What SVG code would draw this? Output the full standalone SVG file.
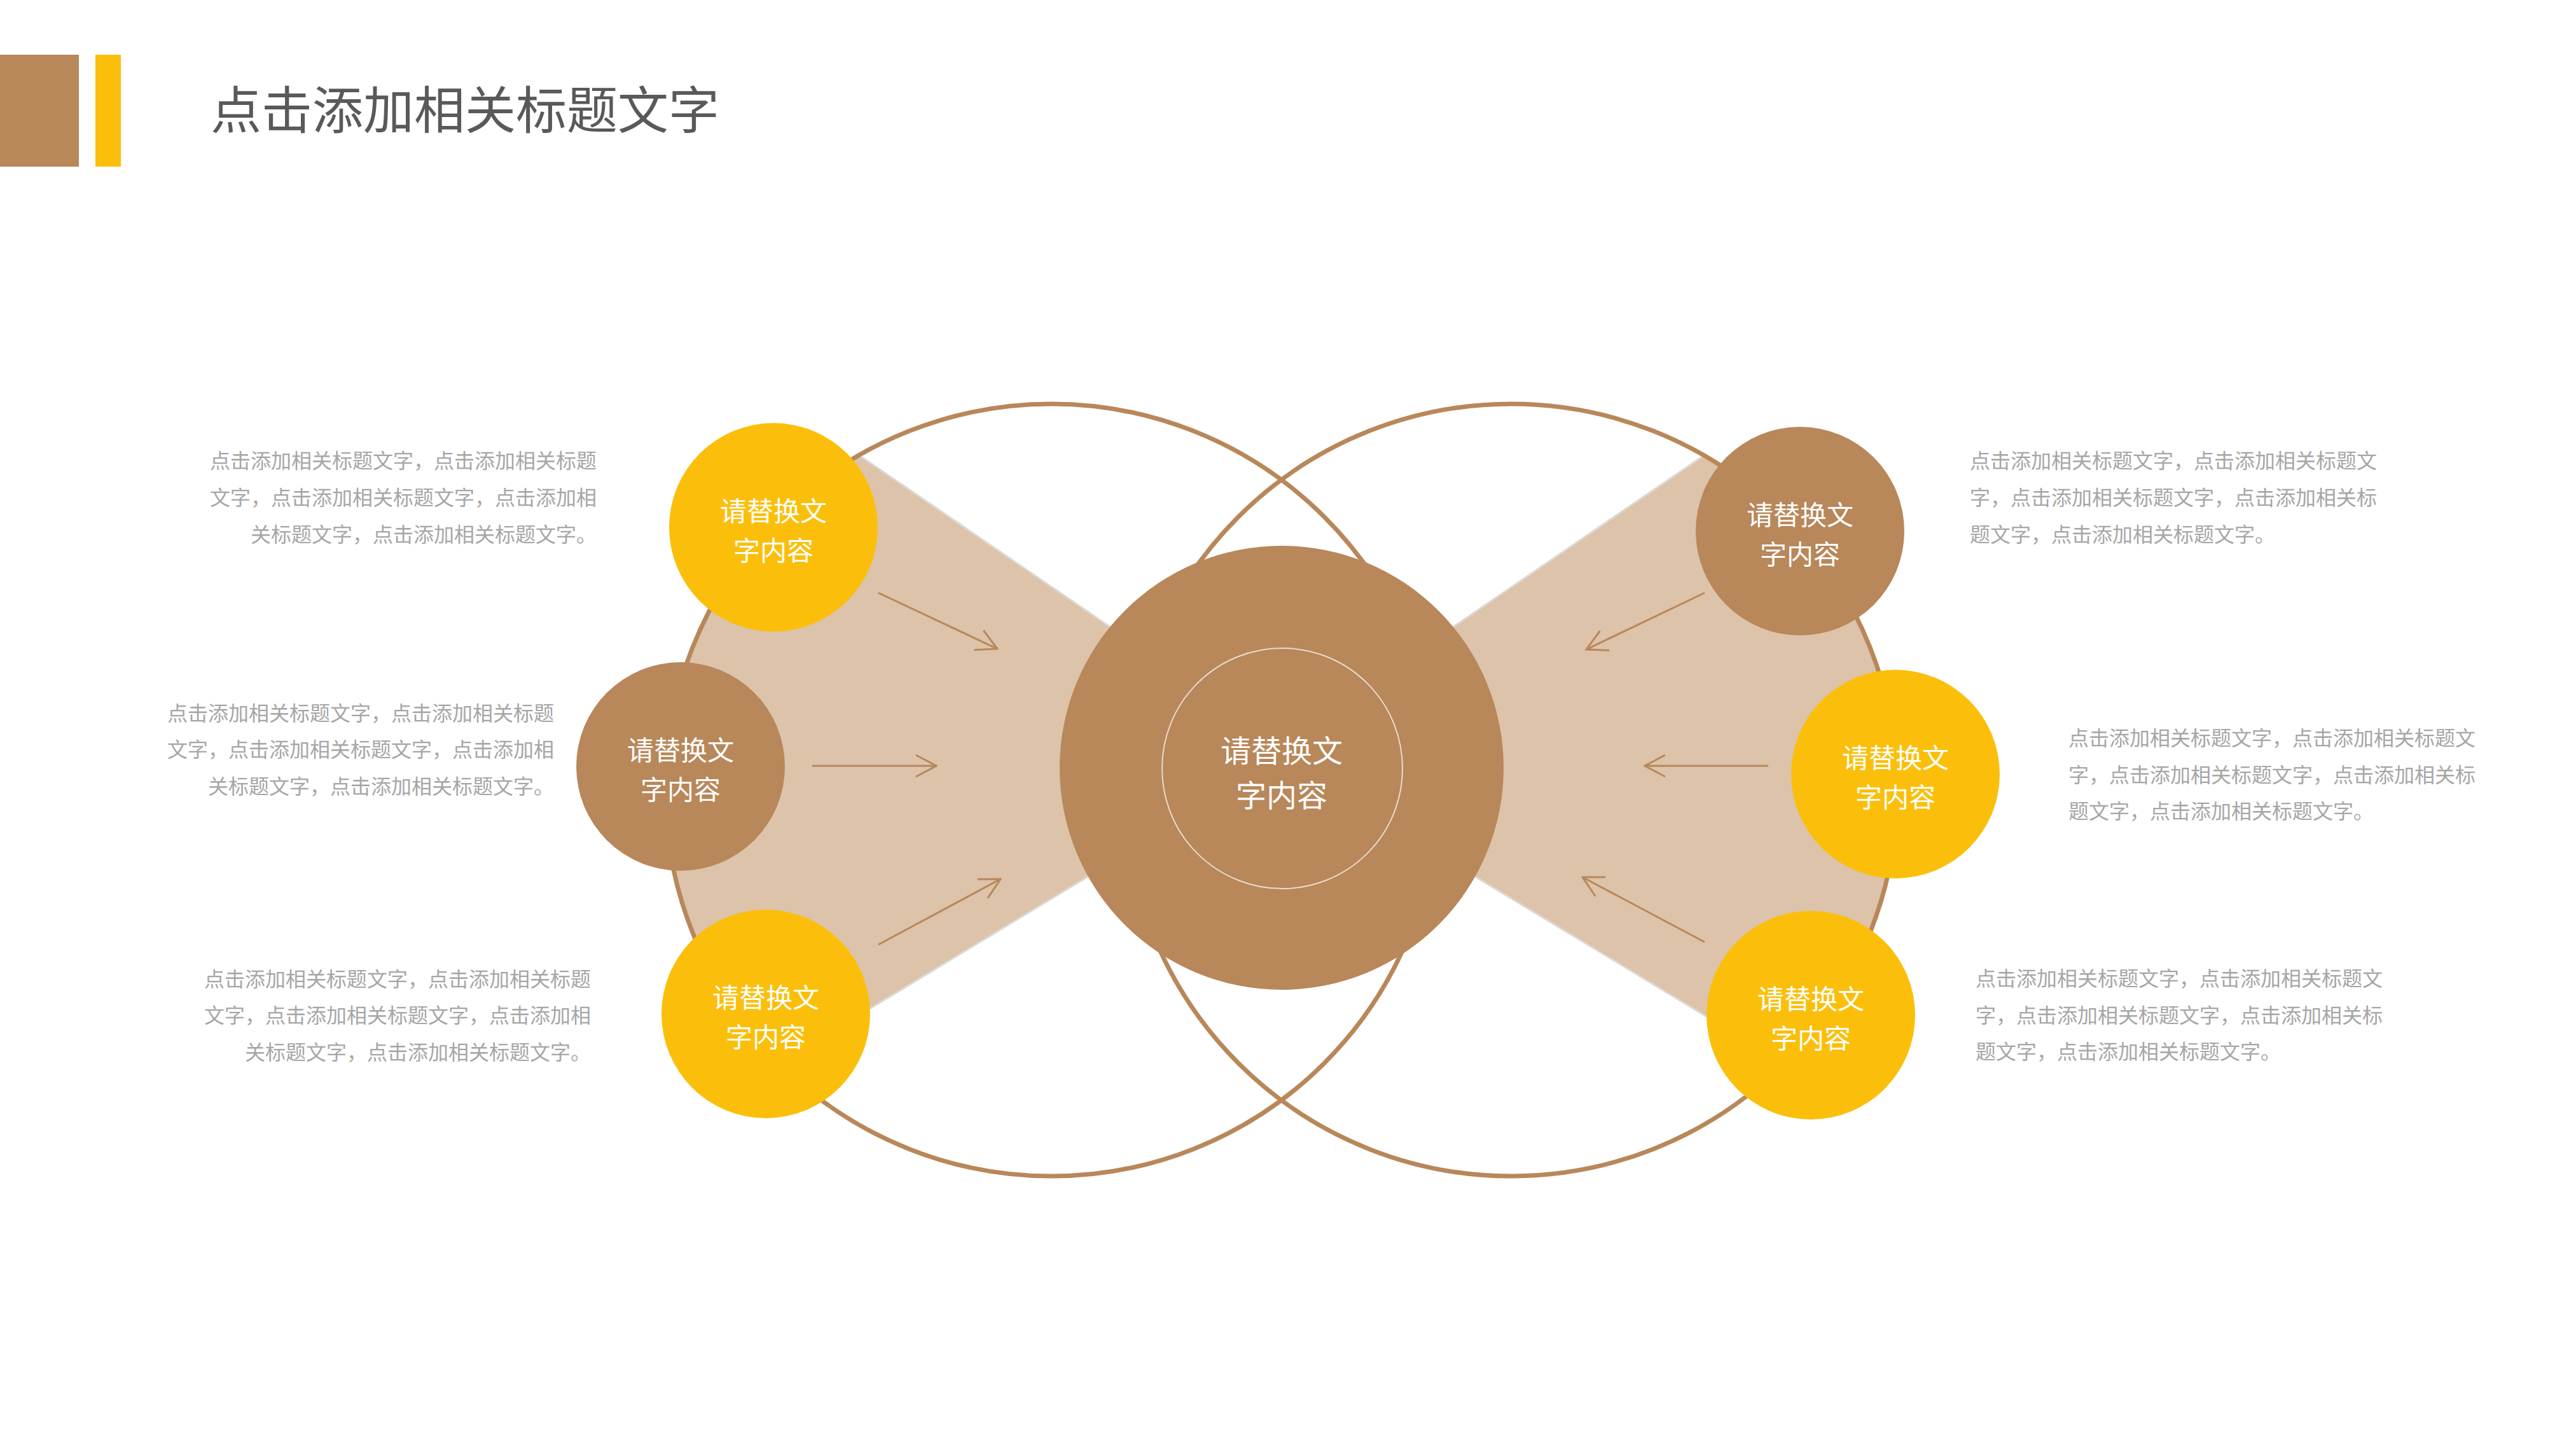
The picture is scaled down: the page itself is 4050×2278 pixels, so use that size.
<svg xmlns="http://www.w3.org/2000/svg" width="4050" height="2278" viewBox="0 0 4050 2278">
<defs>
<style>
.brown{fill:#B8875A}
.yellow{fill:#FBBF0B}
.fan{fill:#DCC3AA;stroke:#DDD8D2;stroke-width:3}
.ring{fill:none;stroke:#B8875A;stroke-width:7}
.arrow{fill:none;stroke:#B8875A;stroke-width:3;marker-end:url(#ah)}
.lbl{font-family:"Noto Sans CJK SC","Noto Sans",sans-serif;fill:#FFFFFF;font-size:42px;text-anchor:middle}
.clbl{font-family:"Noto Sans CJK SC","Noto Sans",sans-serif;fill:#FFFFFF;font-size:48px;text-anchor:middle}
.desc{font-family:"Noto Sans CJK SC","Noto Sans",sans-serif;fill:#A6A6A6;font-size:32px}
.title{font-family:"Noto Sans CJK SC","Noto Sans",sans-serif;fill:#595959;font-size:80px}
</style>
<marker id="ah" markerUnits="userSpaceOnUse" viewBox="0 0 40 40" markerWidth="40" markerHeight="40" refX="38" refY="20" orient="auto">
<path d="M6,3 L38,20 L6,37" fill="none" stroke="#B8875A" stroke-width="3"/>
</marker>
</defs>
<rect width="4050" height="2278" fill="#FFFFFF"/>
<g id="header">
<rect x="0" y="86" width="124" height="176" class="brown"/>
<rect x="150" y="86" width="40" height="176" class="yellow"/>
<text x="331" y="202" class="title">点击添加相关标题文字</text>
</g>
<g id="fans">
<path class="fan" d="M1800 1023 L1350.6 715.7 A607 607 0 0 0 1225 1672 L1800 1324 Z"/>
<path class="fan" d="M2230 1023 L2679.4 715.7 A607 607 0 0 1 2805 1672 L2230 1324 Z"/>
</g>
<g id="rings">
<circle cx="1653" cy="1242" r="607" class="ring"/>
<circle cx="2376" cy="1242" r="607" class="ring"/>
</g>
<g id="center">
<circle cx="2015" cy="1207" r="349" class="brown"/>
<circle cx="2016" cy="1208" r="189" fill="none" stroke="#E9DACA" stroke-width="2"/>
<text x="2015" y="1198" class="clbl">请替换文</text>
<text x="2015" y="1268" class="clbl">字内容</text>
</g>
<g id="connectors">
<line x1="1381" y1="932" x2="1568" y2="1020" class="arrow"/>
<line x1="1277" y1="1204" x2="1472" y2="1204" class="arrow"/>
<line x1="1381" y1="1485" x2="1573" y2="1382" class="arrow"/>
<line x1="2680" y1="932" x2="2494" y2="1021" class="arrow"/>
<line x1="2780" y1="1204" x2="2586" y2="1204" class="arrow"/>
<line x1="2680" y1="1481" x2="2488" y2="1379" class="arrow"/>
</g>
<g id="node-tl">
<circle cx="1216" cy="829" r="164" class="yellow"/>
<text x="1216" y="819" class="lbl">请替换文</text>
<text x="1216" y="881" class="lbl">字内容</text>
</g>
<g id="node-ml">
<circle cx="1070" cy="1205" r="164" class="brown"/>
<text x="1070" y="1195" class="lbl">请替换文</text>
<text x="1070" y="1257" class="lbl">字内容</text>
</g>
<g id="node-bl">
<circle cx="1204" cy="1594" r="164" class="yellow"/>
<text x="1204" y="1584" class="lbl">请替换文</text>
<text x="1204" y="1646" class="lbl">字内容</text>
</g>
<g id="node-tr">
<circle cx="2830" cy="835" r="164" class="brown"/>
<text x="2830" y="825" class="lbl">请替换文</text>
<text x="2830" y="887" class="lbl">字内容</text>
</g>
<g id="node-mr">
<circle cx="2980" cy="1217" r="164" class="yellow"/>
<text x="2980" y="1207" class="lbl">请替换文</text>
<text x="2980" y="1269" class="lbl">字内容</text>
</g>
<g id="node-br">
<circle cx="2847" cy="1596" r="164" class="yellow"/>
<text x="2847" y="1586" class="lbl">请替换文</text>
<text x="2847" y="1648" class="lbl">字内容</text>
</g>
<g id="desc-tl" class="desc" text-anchor="end">
<text x="938" y="736">点击添加相关标题文字，点击添加相关标题</text>
<text x="938" y="794">文字，点击添加相关标题文字，点击添加相</text>
<text x="938" y="852">关标题文字，点击添加相关标题文字。</text>
</g>
<g id="desc-ml" class="desc" text-anchor="end">
<text x="871" y="1133">点击添加相关标题文字，点击添加相关标题</text>
<text x="871" y="1190">文字，点击添加相关标题文字，点击添加相</text>
<text x="871" y="1248">关标题文字，点击添加相关标题文字。</text>
</g>
<g id="desc-bl" class="desc" text-anchor="end">
<text x="929" y="1551">点击添加相关标题文字，点击添加相关标题</text>
<text x="929" y="1608">文字，点击添加相关标题文字，点击添加相</text>
<text x="929" y="1666">关标题文字，点击添加相关标题文字。</text>
</g>
<g id="desc-tr" class="desc">
<text x="3097" y="736">点击添加相关标题文字，点击添加相关标题文</text>
<text x="3097" y="794">字，点击添加相关标题文字，点击添加相关标</text>
<text x="3097" y="852">题文字，点击添加相关标题文字。</text>
</g>
<g id="desc-mr" class="desc">
<text x="3252" y="1172">点击添加相关标题文字，点击添加相关标题文</text>
<text x="3252" y="1230">字，点击添加相关标题文字，点击添加相关标</text>
<text x="3252" y="1287">题文字，点击添加相关标题文字。</text>
</g>
<g id="desc-br" class="desc">
<text x="3106" y="1550">点击添加相关标题文字，点击添加相关标题文</text>
<text x="3106" y="1608">字，点击添加相关标题文字，点击添加相关标</text>
<text x="3106" y="1665">题文字，点击添加相关标题文字。</text>
</g>
</svg>
